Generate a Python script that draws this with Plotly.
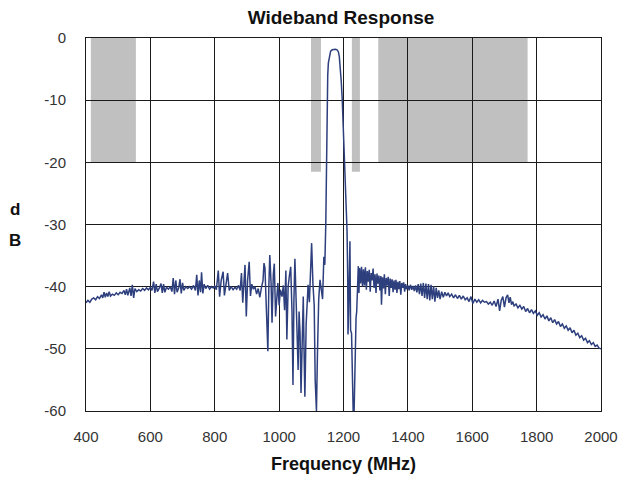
import plotly.graph_objects as go

# ---- data ----
freq_mhz = [
    400, 406, 412, 418, 424, 430, 436, 442, 448, 452, 456, 460, 464, 468, 472, 476, 482, 488, 494, 500,
    506, 512, 518, 522, 526, 530, 536, 540, 544, 548, 552, 558, 564, 570, 576, 582, 588, 594, 600, 605,
    610, 614, 618, 622, 628, 633, 637, 641, 645, 650, 656, 662, 667, 671, 675, 679, 683, 688, 692, 696,
    700, 704, 710, 716, 722, 728, 734, 740, 744, 748, 752, 756, 759, 763, 767, 772, 778, 784, 790, 795,
    800, 805, 811, 815, 820, 826, 830, 835, 840, 845, 851, 857, 863, 868, 874, 879, 883, 887, 891, 894,
    898, 902, 907, 911, 915, 920, 925, 930, 935, 940, 945, 950, 953, 956, 960, 965, 968, 971, 975, 978,
    982, 985, 989, 993, 996, 1000, 1004, 1009, 1013, 1017, 1021, 1024, 1028, 1032, 1036, 1040, 1043, 1046, 1049, 1053,
    1056, 1059, 1062, 1065, 1068, 1071, 1075, 1078, 1080, 1084, 1087, 1090, 1094, 1097, 1101, 1105, 1109, 1112, 1114, 1116,
    1119, 1123, 1127, 1131, 1135, 1139, 1142, 1145, 1147, 1149, 1151, 1153, 1156, 1160, 1165, 1170, 1175, 1180, 1184, 1187,
    1189, 1193, 1196, 1200, 1204, 1208, 1211, 1213, 1214, 1216, 1218, 1220, 1222, 1225, 1228, 1230, 1233, 1236, 1239, 1241,
    1243, 1246, 1248, 1250, 1253, 1256, 1259, 1262, 1265, 1268, 1271, 1274, 1277, 1280, 1283, 1286, 1289, 1292, 1295, 1298,
    1301, 1304, 1307, 1310, 1313, 1316, 1318, 1321, 1324, 1327, 1330, 1333, 1336, 1339, 1342, 1345, 1348, 1351, 1354, 1357,
    1360, 1363, 1366, 1369, 1372, 1375, 1378, 1381, 1384, 1387, 1390, 1393, 1396, 1400, 1404, 1408, 1412, 1416, 1420, 1424,
    1428, 1432, 1436, 1440, 1444, 1448, 1452, 1456, 1460, 1464, 1468, 1472, 1476, 1480, 1484, 1488, 1492, 1496, 1500, 1505,
    1510, 1515, 1520, 1525, 1530, 1536, 1542, 1548, 1554, 1560, 1566, 1572, 1578, 1584, 1590, 1596, 1602, 1608, 1614, 1620,
    1626, 1632, 1638, 1644, 1650, 1656, 1662, 1668, 1674, 1680, 1685, 1690, 1695, 1700, 1705, 1710, 1714, 1718, 1722, 1726,
    1730, 1736, 1742, 1748, 1754, 1760, 1766, 1772, 1778, 1784, 1790, 1796, 1802, 1808, 1814, 1820, 1826, 1832, 1838, 1844,
    1850, 1856, 1862, 1868, 1874, 1880, 1886, 1892, 1898, 1904, 1910, 1916, 1922, 1928, 1934, 1940, 1946, 1952, 1958, 1964,
    1970, 1976, 1982, 1988, 1994, 2000,
]
response_db = [
    -42.6, -42.2, -42.5, -42.0, -41.8, -42.1, -41.6, -41.9, -41.3, -41.8, -40.9, -41.7, -41.0, -41.6, -40.8, -41.5, -41.2, -41.4, -41.0, -41.3,
    -40.9, -41.1, -40.6, -41.3, -40.4, -41.4, -40.2, -41.5, -39.7, -41.8, -40.3, -40.8, -40.5, -40.7, -40.3, -40.6, -40.2, -40.5, -40.1, -40.6,
    -39.2, -41.0, -39.6, -40.8, -40.2, -39.5, -41.0, -39.6, -40.9, -40.1, -40.4, -40.0, -40.8, -38.6, -41.2, -39.0, -40.9, -40.2, -38.8, -41.1,
    -39.4, -40.6, -40.0, -40.3, -40.0, -40.4, -39.8, -40.6, -38.1, -41.4, -39.0, -40.9, -37.7, -41.1, -39.6, -40.3, -39.8, -40.4, -40.0, -40.2,
    -39.9, -40.5, -37.4, -41.6, -39.0, -37.6, -41.4, -39.2, -37.8, -40.6, -40.0, -40.5, -40.1, -40.4, -39.8, -40.6, -37.8, -42.6, -38.0, -36.5,
    -44.8, -39.0, -36.0, -41.5, -39.6, -40.4, -40.0, -41.2, -40.3, -41.7, -40.2, -39.0, -36.2, -37.0, -43.0, -50.4, -40.0, -34.9, -39.5, -45.8,
    -38.0, -36.3, -44.8, -40.5, -39.4, -43.0, -40.5, -41.6, -39.8, -43.8, -37.4, -48.5, -40.0, -38.2, -36.8, -44.0, -55.8, -42.0, -35.5, -42.5,
    -49.0, -53.4, -44.0, -47.5, -57.1, -48.0, -41.6, -52.0, -57.7, -46.0, -41.0, -39.7, -42.5, -38.0, -33.0, -39.5, -43.0, -55.0, -60.0, -60.0,
    -51.0, -42.0, -38.9, -40.5, -42.0, -35.2, -36.5, -29.8, -20.0, -9.4, -6.0, -4.0, -2.8, -2.1, -1.9, -1.8, -1.8, -1.9, -2.2, -3.0,
    -4.0, -7.0, -9.8, -15.0, -22.0, -26.5, -31.0, -38.1, -47.7, -44.0, -36.0, -32.7, -47.0, -47.5, -55.0, -60.0, -60.0, -50.0, -45.0, -44.0,
    -39.0, -36.7, -41.0, -37.0, -39.5, -36.8, -40.0, -37.2, -39.8, -36.9, -40.5, -37.5, -39.2, -37.3, -40.8, -37.8, -39.0, -37.1, -40.2, -38.0,
    -41.0, -37.9, -39.5, -38.2, -40.6, -38.3, -42.9, -38.5, -40.3, -38.0, -41.2, -38.6, -39.8, -38.4, -41.5, -38.7, -40.2, -38.8, -40.9, -39.0,
    -40.5, -38.9, -41.0, -39.2, -40.4, -39.1, -41.3, -39.4, -40.2, -39.3, -40.8, -39.6, -40.4, -39.8, -40.6, -39.7, -40.5, -39.9, -40.7, -39.8,
    -40.9, -39.6, -41.2, -39.5, -41.5, -39.4, -41.8, -39.5, -42.0, -39.6, -42.2, -39.7, -42.0, -39.9, -42.4, -40.2, -41.8, -40.6, -42.0, -40.8,
    -41.7, -40.9, -41.5, -41.0, -41.6, -41.2, -41.8, -41.3, -41.9, -41.4, -42.0, -41.5, -42.1, -41.8, -42.4, -41.6, -42.7, -42.0, -42.5, -42.1,
    -42.6, -42.2, -42.5, -42.4, -42.8, -42.5, -43.0, -42.3, -43.2, -42.0, -43.9, -42.2, -41.6, -43.3, -41.8, -41.3, -42.6, -41.7, -42.9, -42.4,
    -43.1, -42.8, -43.4, -43.0, -43.6, -43.2, -44.0, -43.5, -44.2, -43.7, -44.3, -43.9, -44.6, -44.2, -44.9, -44.5, -45.2, -44.7, -45.5, -45.0,
    -45.8, -45.3, -46.0, -45.6, -46.4, -46.0, -46.7, -46.3, -47.0, -46.6, -47.4, -47.0, -47.8, -47.5, -48.2, -47.9, -48.6, -48.3, -49.0, -48.7,
    -49.3, -49.0, -49.6, -49.4, -49.9, -50.0,
]

# stop-band mask regions (MHz) and their floor (dB)
stop_lo = [415, 1099, 1226, 1308]
stop_hi = [555, 1130, 1251, 1772]
stop_floor = [-20, -21.5, -21.5, -20]

x_ticks = [400, 600, 800, 1000, 1200, 1400, 1600, 1800, 2000]
y_ticks = [0, -10, -20, -30, -40, -50, -60]
y_tick_text = ["0", "-10", "-20", "-30", "-40", "-50", "-60"]

FONT = "Liberation Sans Narrow, Arial Narrow, Liberation Sans, Arial, sans-serif"

fig = go.Figure()
fig.add_trace(go.Scatter(
    x=freq_mhz, y=response_db, mode="lines",
    line=dict(color="#2E3F7E", width=1.5),
    showlegend=False, hoverinfo="x+y",
))

for lo, hi, fl in zip(stop_lo, stop_hi, stop_floor):
    fig.add_shape(type="rect", xref="x", yref="y", x0=lo, x1=hi, y0=fl, y1=0,
                  fillcolor="#C0C0C0", line=dict(width=0), layer="below")

fig.update_layout(
    width=619, height=482,
    margin=dict(l=86, r=18, t=38, b=71, autoexpand=False),
    paper_bgcolor="white", plot_bgcolor="white",
    font=dict(family=FONT, color="#222222", size=15),
    title=dict(text="<b>Wideband Response</b>", x=0.551, xanchor="center",
               y=0.965, yanchor="middle", font=dict(size=19, color="#111111", family=FONT)),
    xaxis=dict(range=[400, 2000], tickvals=x_ticks, ticks="", showgrid=True,
               gridcolor="#1a1a1a", gridwidth=1, showline=True, linecolor="#1a1a1a",
               linewidth=1, mirror=True, zeroline=False, ticklabelstandoff=12,
               automargin=False, tickfont=dict(size=15, color="#333333")),
    yaxis=dict(range=[-60, 0], tickvals=y_ticks, ticktext=y_tick_text, ticks="", showgrid=True,
               gridcolor="#1a1a1a", gridwidth=1, showline=True, linecolor="#1a1a1a",
               linewidth=1, mirror=True, zeroline=False, ticklabelstandoff=16,
               automargin=False, tickfont=dict(size=15, color="#333333")),
    annotations=[
        dict(text="<b>Frequency (MHz)</b>", xref="paper", yref="paper", x=0.5, y=-0.142,
             xanchor="center", yanchor="middle", showarrow=False,
             font=dict(size=18, color="#111111", family=FONT)),
        dict(text="<b>d</b>", xref="paper", yref="paper", x=-0.138, y=0.539,
             xanchor="center", yanchor="middle", showarrow=False,
             font=dict(size=17, color="#111111", family=FONT)),
        dict(text="<b>B</b>", xref="paper", yref="paper", x=-0.138, y=0.456,
             xanchor="center", yanchor="middle", showarrow=False,
             font=dict(size=17, color="#111111", family=FONT)),
    ],
)

# remove the default 8px page margin so the 619x482 figure fills the window exactly
fig.write_html(
    "out.html",
    config={"responsive": False, "displayModeBar": False},
    post_script="document.body.style.margin='0';document.body.style.overflow='hidden';",
)
